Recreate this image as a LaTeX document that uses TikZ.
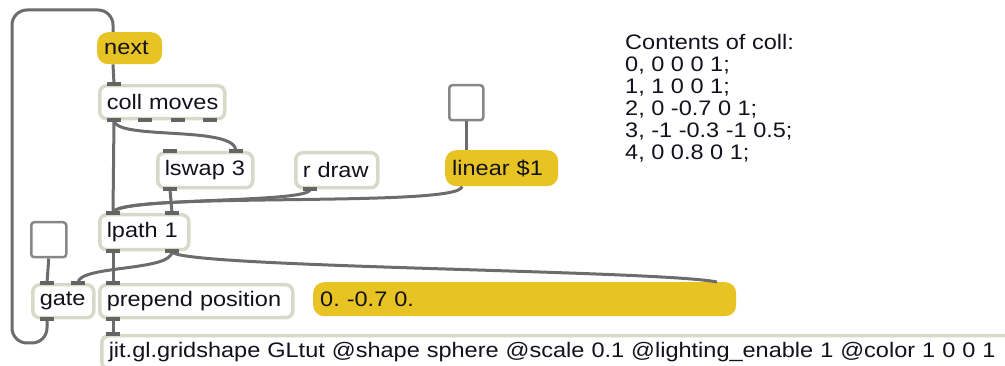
\documentclass[tikz,border=0pt]{standalone}
\usepackage{fontspec}
\setmainfont[FakeStretch=1.12]{Liberation Sans}
\definecolor{maxyellow}{RGB}{231,195,36}
\definecolor{objborder}{RGB}{214,218,200}
\definecolor{cordcol}{RGB}{108,108,108}
\definecolor{portcol}{RGB}{100,100,100}
\definecolor{togborder}{RGB}{135,135,135}
\definecolor{txt}{RGB}{18,18,28}
\newcommand\portat[1]{\draw[port] ([xshift=-7pt]#1) -- ([xshift=7pt]#1);}
\begin{document}
\begin{tikzpicture}[x=1pt,y=-1pt,
 every node/.style={font=\fontsize{21}{22}\selectfont, text=txt},
 obj/.style={draw=objborder, line width=3.5pt, fill=white, rounded corners=7pt, anchor=north west, inner xsep=7pt, inner ysep=0pt, align=left},
 msg/.style={fill=maxyellow, rounded corners=11pt, anchor=north west, inner xsep=7pt, inner ysep=0pt, align=left},
 tog/.style={draw=togborder, line width=2.5pt, fill=white, rounded corners=3pt, anchor=north west, inner sep=0pt},
 port/.style={draw=portcol, line width=4pt},
 cord/.style={draw=cordcol, line width=3pt},
]
\useasboundingbox (0,0) rectangle (1005,366);
% boxes
\node[msg, text width=51pt, minimum height=32pt] (next) at (97,32) {next};
\node[obj, text width=111pt, minimum height=33pt] (coll) at (98,84) {coll~moves};
\node[obj, text width=81pt, minimum height=35pt] (lswap) at (156,151) {lswap~3};
\node[obj, text width=68pt, minimum height=35pt] (rdraw) at (294,151) {r~draw};
\node[msg, text width=99pt, minimum height=36pt] (linear) at (445,150) {linear~\$1};
\node[tog, minimum width=34pt, minimum height=35pt] (tog1) at (448,84) {};
\node[obj, text width=75pt, minimum height=35pt] (lpath) at (98,213) {lpath~1};
\node[tog, minimum width=35pt, minimum height=35pt] (tog2) at (30,221) {};
\node[obj, text width=47pt, minimum height=33pt] (gate) at (31,283) {gate};
\node[obj, text width=179pt, minimum height=33pt] (prepend) at (98,283) {prepend~position};
\node[msg, text width=409pt, minimum height=34pt] (msg2) at (313,282) {0.~-0.7~0.};
\node[obj, text width=900pt, minimum height=33pt] (jit) at (100,334) {jit.gl.gridshape~GLtut~@shape~sphere~@scale~0.1~@lighting\_enable~1~@color~1~0~0~1};
\node[anchor=north west, inner sep=0pt, align=left] (comment) at (625,34) {Contents of coll:\\0, 0 0 0 1;\\1, 1 0 0 1;\\2, 0 -0.7 0 1;\\3, -1 -0.3 -1 0.5;\\4, 0 0.8 0 1;};
% port coordinates
\coordinate (next-i) at ([xshift=16pt]next.north west);
\coordinate (next-o) at ([xshift=16pt]next.south west);
\coordinate (coll-i) at ([xshift=16pt]coll.north west);
\coordinate (coll-o1) at ([xshift=16pt]coll.south west);
\coordinate (coll-o2) at ([xshift=47pt]coll.south west);
\coordinate (coll-o3) at ([xshift=80pt]coll.south west);
\coordinate (coll-o4) at ([xshift=112pt]coll.south west);
\coordinate (lswap-i1) at ([xshift=14pt]lswap.north west);
\coordinate (lswap-i2) at ([xshift=80pt]lswap.north west);
\coordinate (lswap-o1) at ([xshift=14pt]lswap.south west);
\coordinate (rdraw-o) at ([xshift=16pt]rdraw.south west);
\coordinate (linear-o) at ([xshift=17pt]linear.south west);
\coordinate (linear-i) at (tog1.south |- linear.north);
\coordinate (lpath-i1) at ([xshift=15pt]lpath.north west);
\coordinate (lpath-i2) at ([xshift=74pt]lpath.north west);
\coordinate (lpath-o1) at ([xshift=15pt]lpath.south west);
\coordinate (lpath-o2) at ([xshift=74pt]lpath.south west);
\coordinate (gate-i1) at ([xshift=16pt]gate.north west);
\coordinate (gate-i2) at ([xshift=47pt]gate.north west);
\coordinate (gate-o1) at ([xshift=16pt]gate.south west);
\coordinate (prepend-i) at ([xshift=15pt]prepend.north west);
\coordinate (prepend-o) at ([xshift=15pt]prepend.south west);
\coordinate (jit-i) at ([xshift=13pt]jit.north west);
\coordinate (msg2-i) at ([xshift=404pt]msg2.north west);
\coordinate (loopA) at (12,343);
\coordinate (loopB) at (113,10);
% cords
\draw[cord, rounded corners=15pt] (gate-o1) |- (loopA) |- (loopB) -- (next-i);
\draw[cord] (next-o) -- (coll-i);
\draw[cord] (coll-o1) -- (lpath-i1);
\draw[cord] (coll-o1) .. controls +(2,20) and +(0,-26) .. (lswap-i2);
\draw[cord] (lswap-o1) -- (lpath-i2);
\draw[cord] (rdraw-o) .. controls +(0,14) and +(0,-16) .. (lpath-i1);
\draw[cord] (linear-o) .. controls +(0,22) and +(0,-22) .. (lpath-i1);
\draw[cord] (tog1.south) -- (linear-i);
\draw[cord] (tog2.south) -- (gate-i1);
\draw[cord] (lpath-o1) -- (prepend-i);
\draw[cord] (lpath-o2) .. controls +(0,20) and +(0,-18) .. (gate-i2);
\draw[cord] (lpath-o2) .. controls +(0,16) and +(-60,-12) .. (msg2-i);
\draw[cord] (prepend-o) -- (jit-i);
% ports
\portat{coll-i}
\portat{coll-o1}\portat{coll-o2}\portat{coll-o3}\portat{coll-o4}
\portat{lswap-i1}\portat{lswap-i2}\portat{lswap-o1}
\portat{rdraw-o}
\portat{lpath-i1}\portat{lpath-i2}\portat{lpath-o1}\portat{lpath-o2}
\portat{gate-i1}\portat{gate-i2}\portat{gate-o1}
\portat{prepend-i}\portat{prepend-o}
\portat{jit-i}
\end{tikzpicture}
\end{document}
